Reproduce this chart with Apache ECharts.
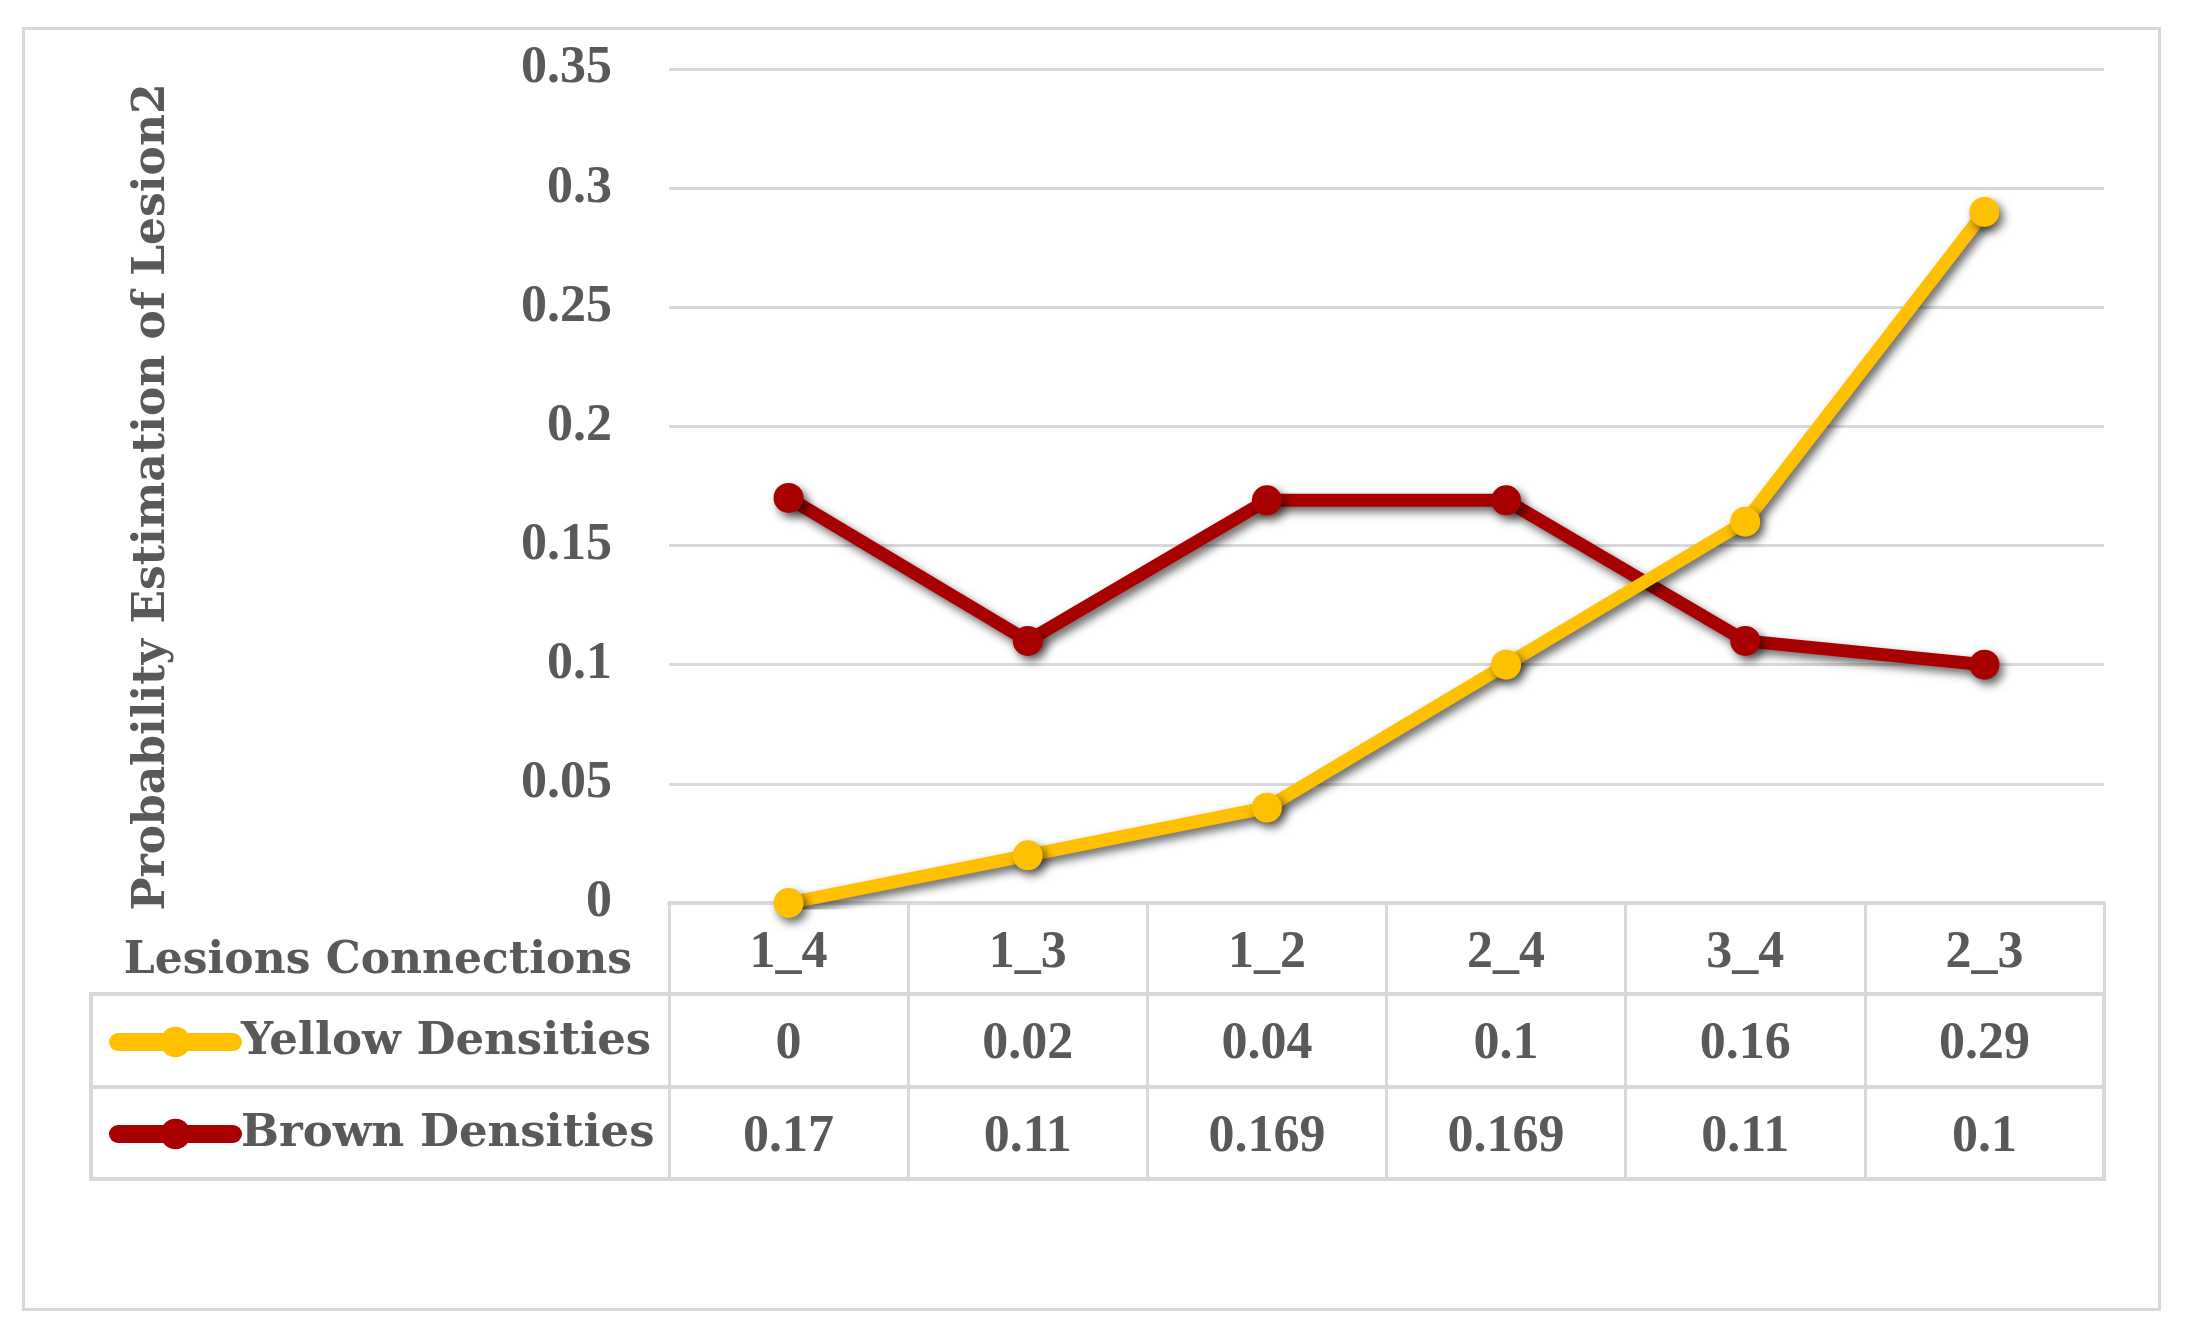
<!DOCTYPE html>
<html>
<head>
<meta charset="utf-8">
<script src="https://cdn.jsdelivr.net/npm/echarts@6/dist/echarts.min.js"></script>
<style>
html,body{margin:0;padding:0;background:#fff;}
#chart{width:2186px;height:1328px;}
</style>
</head>
<body>
<div id="chart"></div>
<script>
const categories = ['1_4', '1_3', '1_2', '2_4', '3_4', '2_3'];
const yellowValues = [0, 0.02, 0.04, 0.1, 0.16, 0.29];
const brownValues = [0.17, 0.11, 0.169, 0.169, 0.11, 0.1];
const seriesNames = ['Yellow Densities', 'Brown Densities'];
const yAxisTitle = 'Probability Estimation of Lesion2';
const xAxisTitle = 'Lesions Connections';

const GRAY = '#d9d9d9';
const TEXT = '#595959';
const NUMFONT = 'Liberation Serif';
const WORDFONT = 'DejaVu Serif';
const YELLOW = '#FFC000';
const BROWN = '#A80000';

const L = 669, R = 2186 - 2104;
const rowTops = [903, 994, 1087];
const rowH = 92;

function rowAxis(gridIndex, values) {
  return {
    type: 'category', gridIndex: gridIndex, data: values.map(v => String(v)),
    position: 'bottom', boundaryGap: true,
    axisLine: {show: true, lineStyle: {color: GRAY, width: 4}},
    axisTick: {show: true, length: rowH, interval: 0, lineStyle: {color: GRAY, width: 3}},
    axisLabel: {show: true, interval: 0, margin: rowH / 2 + 5, verticalAlign: 'middle',
      fontFamily: NUMFONT, fontWeight: 'bold', fontSize: 52, color: TEXT},
    splitLine: {show: false}
  };
}

const lineShadow = {shadowColor: 'rgba(0,0,0,0.6)', shadowBlur: 10, shadowOffsetX: 4, shadowOffsetY: 5};

const option = {
  animation: false,
  backgroundColor: '#ffffff',
  grid: [
    {left: L, right: R, top: 69, height: rowTops[0] - 69},
    {left: L, right: R, top: rowTops[1] - 1, height: 1},
    {left: L, right: R, top: rowTops[2] - 1, height: 1}
  ],
  xAxis: [
    rowAxis(0, categories),
    rowAxis(1, yellowValues),
    rowAxis(2, brownValues)
  ],
  yAxis: [
    {type: 'value', gridIndex: 0, min: 0, max: 0.35, interval: 0.05,
      axisLine: {show: false}, axisTick: {show: false},
      axisLabel: {margin: 57, fontFamily: NUMFONT, fontWeight: 'bold', fontSize: 52, color: TEXT},
      splitLine: {show: true, lineStyle: {color: GRAY, width: 3}}
    },
    {type: 'value', gridIndex: 1, show: false},
    {type: 'value', gridIndex: 2, show: false}
  ],
  legend: {
    orient: 'vertical', left: 109, top: 1012, padding: 0,
    itemWidth: 115, itemHeight: 38, itemGap: 32,
    data: seriesNames,
    textStyle: {fontFamily: WORDFONT, fontWeight: 'bold', fontSize: 45, color: TEXT, lineHeight: 60, padding: [0, 0, 0, 3]},
    lineStyle: {width: 18, cap: 'round'}
  },
  series: [
    {name: seriesNames[0], type: 'line', xAxisIndex: 0, yAxisIndex: 0, data: yellowValues,
      symbol: 'circle', symbolSize: 30, color: YELLOW,
      lineStyle: Object.assign({color: YELLOW, width: 13}, lineShadow),
      itemStyle: Object.assign({color: YELLOW}, lineShadow), z: 3},
    {name: seriesNames[1], type: 'line', xAxisIndex: 0, yAxisIndex: 0, data: brownValues,
      symbol: 'circle', symbolSize: 30, color: BROWN,
      lineStyle: Object.assign({color: BROWN, width: 13}, lineShadow),
      itemStyle: Object.assign({color: BROWN}, lineShadow), z: 2}
  ],
  graphic: [
    {type: 'rect', left: 21, top: 26, silent: true,
      shape: {x: 0, y: 0, width: 2136, height: 1281},
      style: {fill: 'none', stroke: GRAY, lineWidth: 3}},
    {type: 'rect', silent: true, z: -1,
      shape: {x: 91, y: rowTops[1], width: 2104 - 91, height: 1179 - rowTops[1]},
      style: {fill: 'none', stroke: GRAY, lineWidth: 4}},
    {type: 'line', silent: true,
      shape: {x1: 91, y1: rowTops[2], x2: L, y2: rowTops[2]},
      style: {stroke: GRAY, lineWidth: 4}},
    {type: 'text', silent: true,
      style: {x: 632, y: 962, text: xAxisTitle, align: 'right', verticalAlign: 'middle',
        font: 'bold 44px "DejaVu Serif"', fill: TEXT}},
    {type: 'text', silent: true, x: 153, y: 497, rotation: Math.PI / 2,
      style: {x: 0, y: 0, text: yAxisTitle, align: 'center', verticalAlign: 'middle',
        font: 'bold 44px "DejaVu Serif"', fill: TEXT}}
  ]
};

const chart = echarts.init(document.getElementById('chart'), null, {renderer: 'canvas'});
chart.setOption(option);
</script>
</body>
</html>
